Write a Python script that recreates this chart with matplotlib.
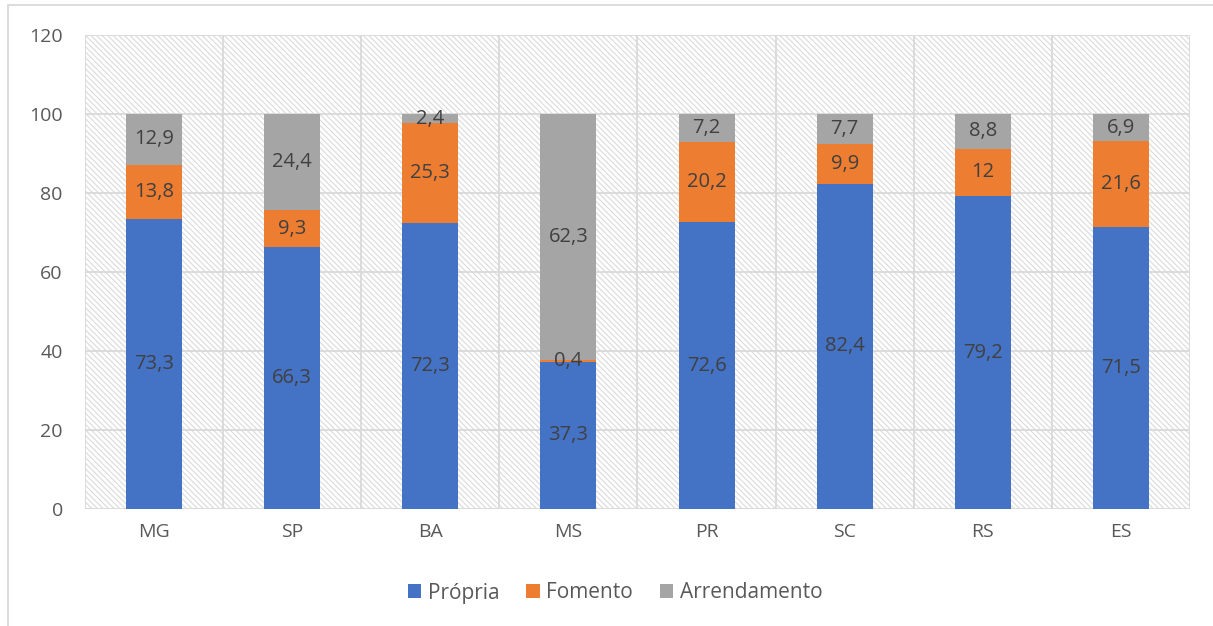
import numpy as np
import matplotlib.pyplot as plt
from matplotlib.patches import Rectangle

plt.rcParams['font.family'] = ['Open Sans', 'DejaVu Sans']
plt.rcParams['hatch.color'] = '#dadada'
plt.rcParams['hatch.linewidth'] = 0.8

estados = ['MG', 'SP', 'BA', 'MS', 'PR', 'SC', 'RS', 'ES']
propria = [73.3, 66.3, 72.3, 37.3, 72.6, 82.4, 79.2, 71.5]
fomento = [13.8, 9.3, 25.3, 0.4, 20.2, 9.9, 12, 21.6]
arrendamento = [12.9, 24.4, 2.4, 62.3, 7.2, 7.7, 8.8, 6.9]

series = [('Própria', propria, '#4472C4'),
          ('Fomento', fomento, '#ED7D31'),
          ('Arrendamento', arrendamento, '#A5A5A5')]


def fmt(v):
    # decimal comma, drop ".0"
    if float(v).is_integer():
        return str(int(v))
    return ('%.1f' % v).replace('.', ',')


fig = plt.figure(figsize=(12.13, 6.26), dpi=100)
ax = fig.add_axes([0.0701, 0.1869, 0.9109, 0.7572])

# hatched plot area
ax.add_patch(Rectangle((0, 0), 1, 1, transform=ax.transAxes, facecolor='white',
                       hatch='\\\\\\\\\\\\', edgecolor='#dadada', linewidth=0, zorder=0))

x = np.arange(len(estados))
base = np.zeros(len(estados))
for nome, vals, cor in series:
    vals = np.array(vals, dtype=float)
    ax.bar(x, vals, 0.405, bottom=base, color=cor, label=nome, zorder=3)
    for xi, b, v in zip(x, base, vals):
        ax.text(xi, b + v / 2, fmt(v), ha='center', va='center',
                fontsize=14.5, color='#404040', zorder=4)
    base += vals

ax.set_xlim(-0.5, len(estados) - 0.5)
ax.set_ylim(0, 120)
ax.set_yticks(range(0, 121, 20))
ax.set_xticks(x)
ax.set_xticklabels(estados)
ax.tick_params(length=0, labelsize=14, labelcolor='#595959')
ax.tick_params(axis='x', pad=10)
ax.tick_params(axis='y', pad=16)

# grid: horizontal at ticks, vertical between categories
for y in range(20, 121, 20):
    ax.axhline(y, color='#d9d9d9', linewidth=1.3, zorder=1)
for xb in np.arange(-0.5, len(estados), 1.0):
    ax.axvline(xb, color='#d9d9d9', linewidth=1.3, zorder=1)
for s in ax.spines.values():
    s.set_visible(False)
ax.axhline(0, color='#d9d9d9', linewidth=1.3, zorder=2)

fig.legend(*ax.get_legend_handles_labels(), loc='center',
           bbox_to_anchor=(615 / 1213, 1 - 593 / 626), ncol=3, frameon=False,
           fontsize=15, handlelength=0.65, handleheight=0.65, handletextpad=0.3,
           columnspacing=1.3, labelcolor='#595959')

# chart border, running off the edges
fig.patches.append(Rectangle((8 / 1213, -0.1), 1.1, 1 - 5 / 626 + 0.1,
                             transform=fig.transFigure, fill=False,
                             edgecolor='#d9d9d9', linewidth=1.3))
fig.text(0.5, 1.0 + 8 / 626, 'Forma de propriedade (em %)', ha='center', va='baseline',
         fontsize=17, color='black', family=['Liberation Serif', 'DejaVu Serif'])

fig.savefig('out.png', dpi=100)
